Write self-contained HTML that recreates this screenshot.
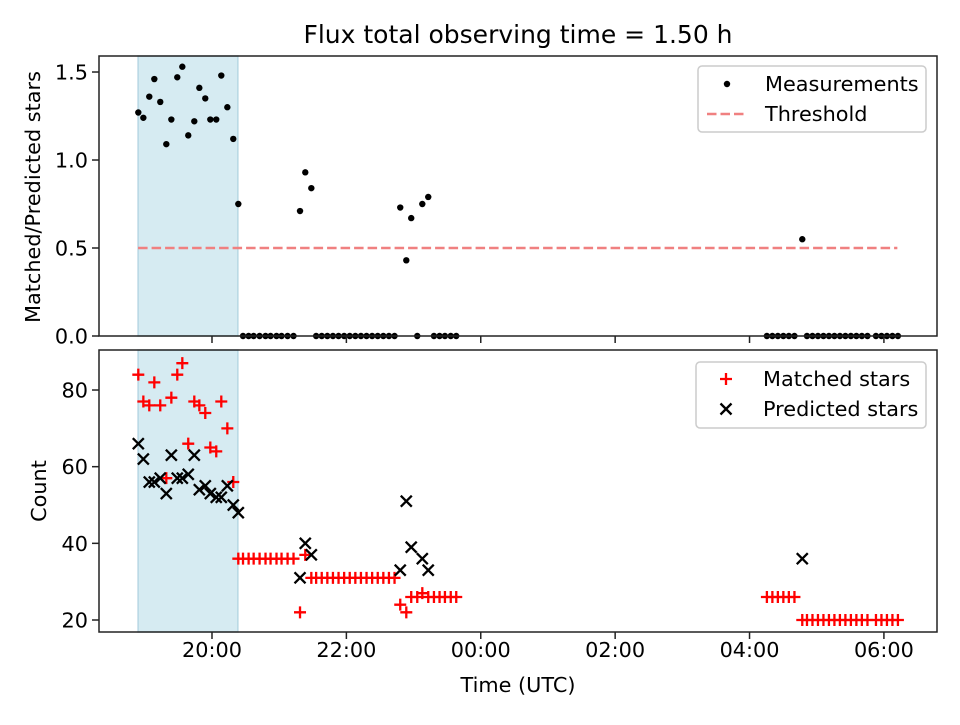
<!DOCTYPE html>
<html><head><meta charset="utf-8"><style>
body{margin:0;background:#fff}
svg text{font-family:"DejaVu Sans","Liberation Sans",sans-serif;fill:#000}
</style></head><body>
<svg id="chart" width="960" height="720" xmlns="http://www.w3.org/2000/svg"></svg>
<script>
// times in minutes after 18:00
const tEarly=[54.2,58.7,64,68.5,73.8,79.2,83.7,89,93.5,98.8,104.2,108.7,114,118.5,123.8,128.3,133.7,139,143.5];
const tMid=[147.7,152.7,157.2,162.5,167.8,172.3,177.6,182.1,187.5,192.8,198.6,203.3,208.7,213,218,223,228,233,238,243,248,253,258,263,268,273,278,283,288.1,293.5,297.9,303.3,307.8,313.1,318.2,323.2,328,333.2,338.1];
const tLate=[615.5,620.4,625.3,630.2,635.1,640.1,647.1,651.3,656.2,661.1,666,670.9,675.8,680.7,685.6,690.5,695.4,700.3,705.3,712.9,717.8,722.7,727.6,732.5];
const ratioEarly=[1.27,1.24,1.36,1.46,1.33,1.09,1.23,1.47,1.53,1.14,1.22,1.41,1.35,1.23,1.23,1.48,1.30,1.12,0.75];
const ratioMid=[0,0,0,0,0,0,0,0,0,0,0.71,0.93,0.84,0,0,0,0,0,0,0,0,0,0,0,0,0,0,0,0.73,0.43,0.67,0,0.75,0.79,0,0,0,0,0];
const ratioLate=[0,0,0,0,0,0,0.55,0,0,0,0,0,0,0,0,0,0,0,0,0,0,0,0,0];
const matchedEarly=[84,77,76,82,76,57,78,84,87,66,77,76,74,65,64,77,70,56,36];
const matchedMid=[36,36,36,36,36,36,36,36,36,36,22,37,31,31,31,31,31,31,31,31,31,31,31,31,31,31,31,31,24,22,26,26,27,26,26,26,26,26,26];
const matchedLate=[26,26,26,26,26,26,20,20,20,20,20,20,20,20,20,20,20,20,20,20,20,20,20,20];
const predTimes=[54.2,58.7,64,68.5,73.8,79.2,83.7,89,93.5,98.8,104.2,108.7,114,118.5,123.8,128.3,133.7,139,143.5,198.6,203.3,208.7,288.1,293.5,297.9,307.8,313.1,647.1];
const predicted=[66,62,56,56,57,53,63,57,57,58,63,54,55,53,52,52,55,50,48,31,40,37,33,51,39,36,33,36];
const threshold=0.5, thrStart=54, thrEnd=732;
const shadeStart=53.9, shadeEnd=143.2;
const xTicks=[120,240,360,480,600,720];
const xTickLabels=["20:00","22:00","00:00","02:00","04:00","06:00"];
const yTopTicks=[0,0.5,1.0,1.5];
const yTopLabels=["0.0","0.5","1.0","1.5"];
const yBotTicks=[20,40,60,80];

const svg=document.getElementById('chart');
const NS='http://www.w3.org/2000/svg';
const L=99,R=937,T1=56,B1=336,T2=350,B2=632;
const xMin=19.1,xMax=767.4;
const FS=20.8;
const X=t=>L+(t-xMin)/(xMax-xMin)*(R-L);
const Y1=v=>B1-(v-0)/(1.591-0)*(B1-T1);
const Y2=v=>B2-(v-16.87)/(90.44-16.87)*(B2-T2);
function mk(tag,attrs,parent){const e=document.createElementNS(NS,tag);for(const k in attrs)e.setAttribute(k,attrs[k]);(parent||svg).appendChild(e);return e;}

[[T1,B1],[T2,B2]].forEach(([a,b],i)=>{
 const r=mk('rect',{x:X(shadeStart),y:a,width:X(shadeEnd)-X(shadeStart),height:b-a,fill:'rgba(173,216,230,0.5)',stroke:'rgba(140,190,210,0.5)','stroke-width':1.5});
 
 
});
const th=mk('line',{x1:X(thrStart),x2:X(thrEnd),y1:Y1(threshold),y2:Y1(threshold),stroke:'#f08080','stroke-width':2.5,'stroke-dasharray':'9.5,4'});


const allT=tEarly.concat(tMid,tLate), allR=ratioEarly.concat(ratioMid,ratioLate), allM=matchedEarly.concat(matchedMid,matchedLate);
allT.forEach((t,i)=>{
 const c=mk('circle',{cx:X(t),cy:Y1(allR[i]),r:3.2,fill:'#000'});
 
 
});
allT.forEach((t,i)=>{
 const x=X(t),y=Y2(allM[i]);
 const p=mk('path',{d:`M${x-6},${y}H${x+6}M${x},${y-6}V${y+6}`,stroke:'#f00','stroke-width':2.3});
 
 
});
predTimes.forEach((t,i)=>{
 const x=X(t),y=Y2(predicted[i]);
 const p=mk('path',{d:`M${x-5.5},${y-5.5}L${x+5.5},${y+5.5}M${x-5.5},${y+5.5}L${x+5.5},${y-5.5}`,stroke:'#000','stroke-width':2.3});
 
 
});
[[T1,B1],[T2,B2]].forEach(([a,b],i)=>{
 const r=mk('rect',{x:L,y:a,width:R-L,height:b-a,fill:'none',stroke:'#222','stroke-width':1.5});
 
 
});
xTicks.forEach((t,i)=>{
 const x=X(t);
 mk('line',{x1:x,x2:x,y1:B1,y2:B1+7,stroke:'#222','stroke-width':1.5});
 mk('line',{x1:x,x2:x,y1:B2,y2:B2+7,stroke:'#222','stroke-width':1.5});
 const tx=mk('text',{x:x,y:B2+25,'text-anchor':'middle','font-size':FS});
 tx.textContent=xTickLabels[i];
 
 
});
yTopTicks.forEach((v,i)=>{
 const y=Y1(v);
 mk('line',{x1:L-7,x2:L,y1:y,y2:y,stroke:'#222','stroke-width':1.5});
 const tx=mk('text',{x:L-11,y:y+7.5,'text-anchor':'end','font-size':FS});
 tx.textContent=yTopLabels[i];
 
 
});
yBotTicks.forEach(v=>{
 const y=Y2(v);
 mk('line',{x1:L-7,x2:L,y1:y,y2:y,stroke:'#222','stroke-width':1.5});
 const tx=mk('text',{x:L-11,y:y+7.5,'text-anchor':'end','font-size':FS});
 tx.textContent=String(v);
 
 
});
</script>
<svg width="960" height="720" style="position:absolute;left:0;top:0" xmlns="http://www.w3.org/2000/svg">
<text x="518" y="43" text-anchor="middle" font-size="25">Flux total observing time = 1.50 h</text>
<text x="518" y="692" text-anchor="middle" font-size="20.8">Time (UTC)</text>
<text transform="translate(40,197) rotate(-90)" text-anchor="middle" font-size="20.8">Matched/Predicted stars</text>
<text transform="translate(46,491) rotate(-90)" text-anchor="middle" font-size="20.8">Count</text>
<g>
<rect x="698" y="66" width="228" height="66" rx="4" fill="#fff" fill-opacity="0.8" stroke="#ccc" stroke-width="1.5"/>
<circle cx="727" cy="84" r="3.2" fill="#000"/>
<text x="765" y="91" font-size="20.8">Measurements</text>
<line x1="707" x2="747" y1="114" y2="114" stroke="#f08080" stroke-width="2.5" stroke-dasharray="9.5,4"/>
<text x="765" y="121" font-size="20.8">Threshold</text>
</g>
<g>
<rect x="696" y="362" width="230" height="66" rx="4" fill="#fff" fill-opacity="0.8" stroke="#ccc" stroke-width="1.5"/>
<path d="M720,379H732M726,373V385" stroke="#f00" stroke-width="2.3"/>
<text x="763" y="386" font-size="20.8">Matched stars</text>
<path d="M720.5,403.5L731.5,414.5M720.5,414.5L731.5,403.5" stroke="#000" stroke-width="2.3"/>
<text x="763" y="416" font-size="20.8">Predicted stars</text>
</g>
</svg>
</body></html>
